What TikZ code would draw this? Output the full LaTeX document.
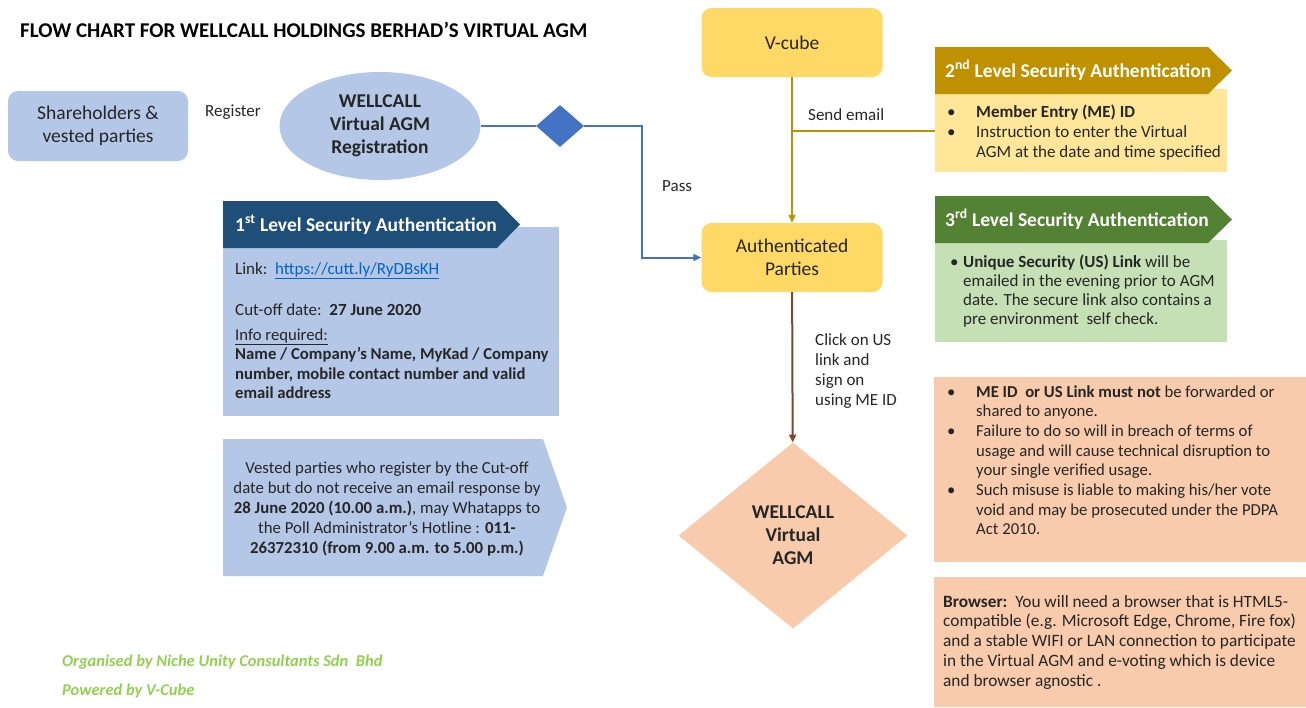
\documentclass[tikz,border=0pt]{standalone}
\usepackage{fontspec}
\setmainfont{Carlito}
\usetikzlibrary{shapes.geometric,arrows.meta}
\definecolor{paleblue}{HTML}{B4C7E7}
\definecolor{navy}{HTML}{1F4E79}
\definecolor{lineblue}{HTML}{4472C4}
\definecolor{gold}{HTML}{BF9000}
\definecolor{paleyellow}{HTML}{FFE699}
\definecolor{boxyellow}{HTML}{FFD966}
\definecolor{leaf}{HTML}{548235}
\definecolor{palegreen}{HTML}{C5E0B4}
\definecolor{peach}{HTML}{F8CBAD}
\definecolor{brownline}{HTML}{7B4A2C}
\definecolor{linkblue}{HTML}{0563C1}
\definecolor{footgreen}{HTML}{92D050}
\definecolor{ink}{HTML}{262626}
\newcommand{\fsz}[2]{\fontsize{#1}{#2}\selectfont}
\newcommand{\txtrows}[2][l]{\begin{tabular}[t]{@{}#1@{}}#2\end{tabular}}
\newcommand{\bulpt}{\makebox[29pt][l]{\textbullet}}
\newcommand{\bulskip}{\hspace*{29pt}}

\begin{document}
\begin{tikzpicture}[x=1pt, y=-1pt,
	rbox/.style={rectangle, rounded corners=10pt, minimum width=181pt, minimum height=69pt, inner sep=0pt, align=center, font=\fsz{19.5}{23}, text=ink},
	lbl/.style={inner sep=0pt, text=ink, font=\fsz{17}{20}, anchor=base west},
	hdtxt/.style={lbl, text=white, font=\fsz{19.5}{22}\bfseries},
	panel/.style={anchor=north west, inner sep=0pt},
	flow/.style={line width=2pt},
	arrowhd/.style={-{Triangle[length=8pt,width=7pt]}}]
	%\draw[help lines] (0,0) grid (1306,707);
	\useasboundingbox (0,0) rectangle (1306,707);

	\node[lbl, font=\fsz{21}{24}\bfseries, text=black] (title) at (20,37) {FLOW CHART FOR WELLCALL HOLDINGS BERHAD’S VIRTUAL AGM};

	% left column
	\node[rbox, fill=paleblue, minimum width=180pt, minimum height=70pt] (share) at (98,126) {Shareholders \&\\vested parties};
	\node[lbl] (reglbl) at (205,116) {Register};
	\node[ellipse, fill=paleblue, minimum width=201pt, minimum height=108pt, inner sep=0pt, align=center, font=\fsz{19.5}{23}\bfseries, text=ink] (reg) at (380,126) {WELLCALL\\Virtual AGM\\Registration};
	\node[diamond, fill=lineblue, minimum width=48pt, minimum height=42pt, inner sep=0pt] (gate) at (560,126) {};

	\node[panel, fill=paleblue, minimum width=336pt, minimum height=189pt] (lvone) at (223,227) {};
	\fill[navy] (223,201) -- (497,201) -- (520,224.5) -- (497,248) -- (223,248) -- cycle;%1st header
	\node[hdtxt] (lvonehd) at (235,231) {1\textsuperscript{st} Level Security Authentication};
	\node[lbl] (linklbl) at (235,274) {Link:\ \ \textcolor{linkblue}{\underline{https://cutt.ly/RyDBsKH}}};
	\node[lbl] (cutoff) at (235,315) {Cut-off date:\ \ \textbf{27 June 2020}};
	\node[lbl, font=\fsz{16.7}{19.6}] (info) at (235,340) {\txtrows{\underline{Info required:}\\\textbf{Name / Company’s Name, MyKad / Company}\\\textbf{number, mobile contact number and valid}\\\textbf{email address}}};

	\fill[paleblue] (223,439) -- (543,439) -- (567,507.5) -- (543,576) -- (223,576) -- cycle;%vested note
	\node[lbl, anchor=base, font=\fsz{16.8}{20}] (vested) at (387,473) {\txtrows[c]{Vested parties who register by the Cut-off\\date but do not receive an email response by\\\textbf{28 June 2020 (10.00 a.m.)}, may Whatapps to\\the Poll Administrator’s Hotline : \textbf{011-}\\\textbf{26372310 (from 9.00 a.m. to 5.00 p.m.)}}};

	% middle column
	\node[rbox, fill=boxyellow] (vcube) at (792,42.5) {V-cube};
	\node[rbox, fill=boxyellow] (auth) at (792,257.5) {Authenticated\\Parties};
	\node[diamond, fill=peach, minimum width=229pt, minimum height=186pt, inner sep=0pt, align=center, font=\fsz{19.5}{23}\bfseries, text=ink] (agm) at (793,535.5) {WELLCALL\\Virtual\\AGM};

	\coordinate (passturn) at (642,257.5);
	\coordinate (mailsplit) at (792,131);
	\draw[flow, lineblue] (reg) -- (gate);
	\draw[flow, lineblue, arrowhd] (gate) -| (passturn) -- (auth);
	\node[lbl] (passlbl) at (662,191) {Pass};
	\draw[flow, gold, arrowhd] (vcube) -- (auth);
	\node[lbl] (maillbl) at (808,120) {Send email};
	\draw[flow, brownline, arrowhd] (auth) -- (agm);
	\node[lbl] (clicklbl) at (815,345) {\txtrows{Click on US\\link and\\sign on\\using ME ID}};

	% right column
	\node[panel, fill=paleyellow, minimum width=292pt, minimum height=83pt] (lvtwo) at (935,89) {};
	\fill[gold] (935,47) -- (1208,47) -- (1232,70.5) -- (1208,94) -- (935,94) -- cycle;%2nd header
	\node[hdtxt] (lvtwohd) at (945,77) {2\textsuperscript{nd} Level Security Authentication};
	\node[lbl] (lvtwotxt) at (947,117) {\txtrows{\bulpt\textbf{Member Entry (ME) ID}\\\bulpt Instruction to enter the Virtual\\\bulskip AGM at the date and time specified}};
	\draw[flow, gold] (mailsplit) -- (mailsplit -| lvtwo.west);

	\node[panel, fill=palegreen, minimum width=292pt, minimum height=102pt] (lvthree) at (935,240) {};
	\fill[leaf] (935,196) -- (1208,196) -- (1232,219.5) -- (1208,243) -- (935,243) -- cycle;%3rd header
	\node[hdtxt] (lvthreehd) at (945,226) {3\textsuperscript{rd} Level Security Authentication};
	\node[lbl, font=\fsz{17}{19}] (lvthreetxt) at (950,267) {\txtrows{\makebox[13pt][l]{\textbullet}\textbf{Unique Security (US) Link} will be\\\hspace*{13pt}emailed in the evening prior to AGM\\\hspace*{13pt}date. The secure link also contains a\\\hspace*{13pt}pre environment\ \ self check.}};

	\node[panel, fill=peach, minimum width=372pt, minimum height=185pt] (warn) at (934,377) {};
	\node[lbl, font=\fsz{16.7}{19.7}] (warntxt) at (947,397) {\txtrows{\bulpt\textbf{ME ID\ \ or US Link must not} be forwarded or\\\bulskip shared to anyone.\\\bulpt Failure to do so will in breach of terms of\\\bulskip usage and will cause technical disruption to\\\bulskip your single verified usage.\\\bulpt Such misuse is liable to making his/her vote\\\bulskip void and may be prosecuted under the PDPA\\\bulskip Act 2010.}};

	\node[panel, fill=peach, minimum width=372pt, minimum height=130pt] (browser) at (934,577) {};
	\node[lbl, font=\fsz{17.3}{19.8}] (browsertxt) at (943,607) {\txtrows{\textbf{Browser:}\ \ You will need a browser that is HTML5-\\compatible (e.g. Microsoft Edge, Chrome, Fire fox)\\and a stable WIFI or LAN connection to participate\\in the Virtual AGM and e-voting which is device\\and browser agnostic .}};

	% footer
	\node[lbl, text=footgreen, font=\fsz{16.5}{18}\bfseries\itshape] (org) at (62,666) {Organised by Niche Unity Consultants Sdn\ \ Bhd};
	\node[lbl, text=footgreen, font=\fsz{16.5}{18}\bfseries\itshape] (pow) at (62,695) {Powered by V-Cube};
\end{tikzpicture}
\end{document}
